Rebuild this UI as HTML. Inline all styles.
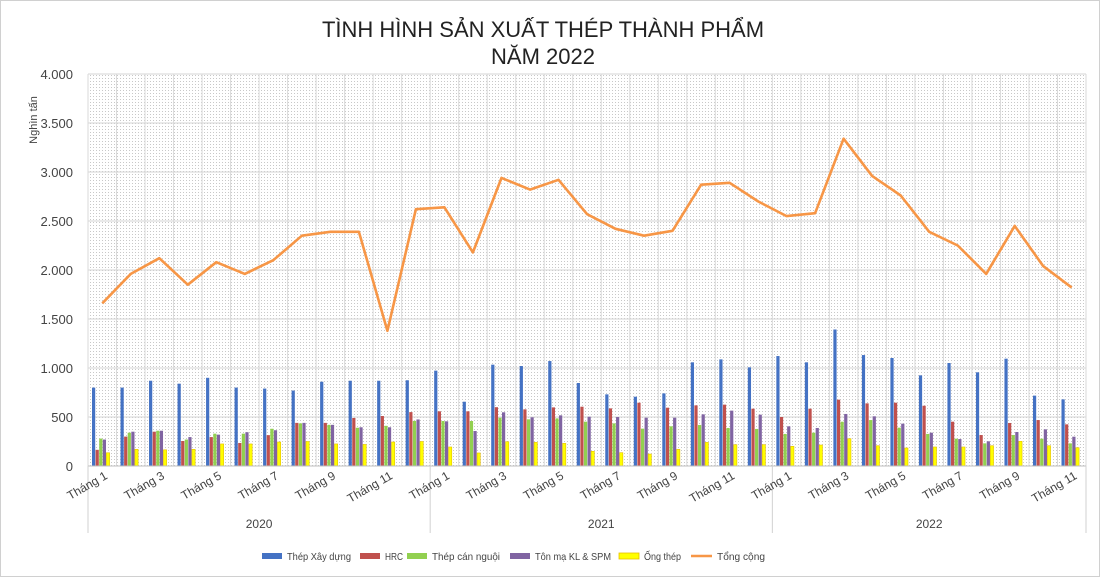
<!DOCTYPE html>
<html><head><meta charset="utf-8"><style>
html,body{margin:0;padding:0;background:#fff;}
svg{display:block;font-family:"Liberation Sans","DejaVu Sans",sans-serif;}
</style></head><body>
<svg id="c" width="1100" height="577" viewBox="0 0 1100 577" xmlns="http://www.w3.org/2000/svg">
<defs>
<pattern id="dots" width="3" height="3" patternUnits="userSpaceOnUse">
<rect x="0" y="0" width="1" height="1" fill="#c8c8c8"/>
</pattern>
</defs>
<rect x="0.5" y="0.5" width="1099" height="576" fill="#fff" stroke="#d0d0d0"/>
<text x="543" y="37" text-anchor="middle" font-size="22" fill="#222">TÌNH HÌNH SẢN XUẤT THÉP THÀNH PHẨM</text>
<text x="543" y="64" text-anchor="middle" font-size="22" fill="#222">NĂM 2022</text>
<rect x="88" y="74" width="998" height="392" fill="url(#dots)"/>
<g id="g"></g>
<text transform="translate(37,120) rotate(-90)" text-anchor="middle" font-size="11" fill="#444">Nghìn tấn</text>
</svg>
<script>
const g=document.getElementById('g');let s='';
const L=88,R=1086,Z=466,K=0.098,W=(R-L)/35;
const y=v=>Z-v*K;
for(let i=0;i<=8;i++){const yy=Z-i*500*K;s+=`<line x1="${L}" x2="${R}" y1="${yy}" y2="${yy}" stroke="#d4d4d4" stroke-width="1"/>`;
s+=`<text x="73" y="${yy+5}" text-anchor="end" font-size="13" fill="#444">${i==0?'0':(i*500).toLocaleString('de-DE')}</text>`;}
for(let i=0;i<=35;i++){const x=L+i*W;s+=`<line x1="${x}" x2="${x}" y1="74" y2="466" stroke="#dadada"/>`;}
const B=[800,800,870,840,900,800,790,770,860,870,870,875,973,656,1034,1020,1071,847,731,707,741,1058,1088,1007,1122,1058,1393,1132,1102,925,1051,956,1095,718,680];
const Rd=[165,300,350,255,295,235,315,440,440,490,510,550,558,558,600,578,598,605,588,646,595,619,626,585,500,585,677,639,646,615,452,316,439,469,425];
const Gn=[280,340,360,270,330,330,380,435,420,390,410,460,459,459,493,476,486,452,435,381,405,418,388,378,327,340,452,469,391,327,279,231,316,279,231];
const Pu=[270,350,360,295,320,345,365,440,420,395,395,475,456,357,548,497,517,503,500,493,493,527,565,524,405,388,531,507,432,340,275,252,347,374,299];
const Ye=[135,170,165,170,225,225,245,250,225,220,245,250,194,133,248,241,231,150,136,122,170,241,218,218,201,214,279,207,184,194,194,207,252,207,187];
const T=[1660,1960,2120,1850,2080,1960,2100,2350,2390,2390,1380,2620,2640,2180,2940,2820,2920,2570,2420,2350,2400,2870,2890,2700,2550,2580,3340,2960,2760,2390,2250,1960,2450,2040,1820];
const ser=[[B,'#4472c4'],[Rd,'#c0504d'],[Gn,'#92d050'],[Pu,'#8064a2'],[Ye,'#ffff00']];
for(let i=0;i<35;i++){const x0=L+i*W+4;ser.forEach((sr,k)=>{const v=sr[0][i];
s+=`<rect x="${x0+k*3.6}" y="${y(v)}" width="3.2" height="${v*K}" fill="${sr[1]}"${k==4?' stroke="#e8c000" stroke-width="0.6"':''}/>`;});}
s+=`<polyline fill="none" stroke="#f79646" stroke-width="2.6" stroke-linejoin="round" points="${T.map((v,i)=>(L+(i+.5)*W).toFixed(1)+','+y(v).toFixed(1)).join(' ')}"/>`;
s+=`<line x1="${L}" x2="${R}" y1="${Z}" y2="${Z}" stroke="#bfbfbf"/>`;
[0,12,24,35].forEach(i=>{const x=L+i*W;s+=`<line x1="${x}" x2="${x}" y1="466" y2="533" stroke="#d0d0d0"/>`;});
for(let i=0;i<35;i++){const m=(i%12)+1;if(m%2==0)continue;const cx=L+(i+.5)*W+6;
s+=`<text transform="translate(${cx},478) rotate(-30)" text-anchor="end" font-size="12" fill="#444">Tháng ${m}</text>`;}
[['2020',0,12],['2021',12,24],['2022',24,35]].forEach(a=>{s+=`<text x="${L+(a[1]+a[2])/2*W}" y="528" text-anchor="middle" font-size="12" fill="#444">${a[0]}</text>`;});
const lg=[[262,'#4472c4','Thép Xây dựng',64],[360,'#c0504d','HRC',18],[407,'#92d050','Thép cán nguội',68],[510,'#8064a2','Tôn mạ KL &amp; SPM',76],[619,'#ffff00','Ống thép',37]];
lg.forEach(a=>{s+=`<rect x="${a[0]}" y="553" width="20" height="6" fill="${a[1]}"${a[1]=='#ffff00'?' stroke="#e8c000" stroke-width="0.8"':''}/><text x="${a[0]+25}" y="560" font-size="10.5" fill="#444" textLength="${a[3]}" lengthAdjust="spacingAndGlyphs">${a[2]}</text>`;});
s+=`<line x1="691" x2="712" y1="556" y2="556" stroke="#f79646" stroke-width="2.5"/><text x="717" y="560" font-size="10.5" fill="#444" textLength="48" lengthAdjust="spacingAndGlyphs">Tổng cộng</text>`;
g.innerHTML=s;
</script>
</body></html>
